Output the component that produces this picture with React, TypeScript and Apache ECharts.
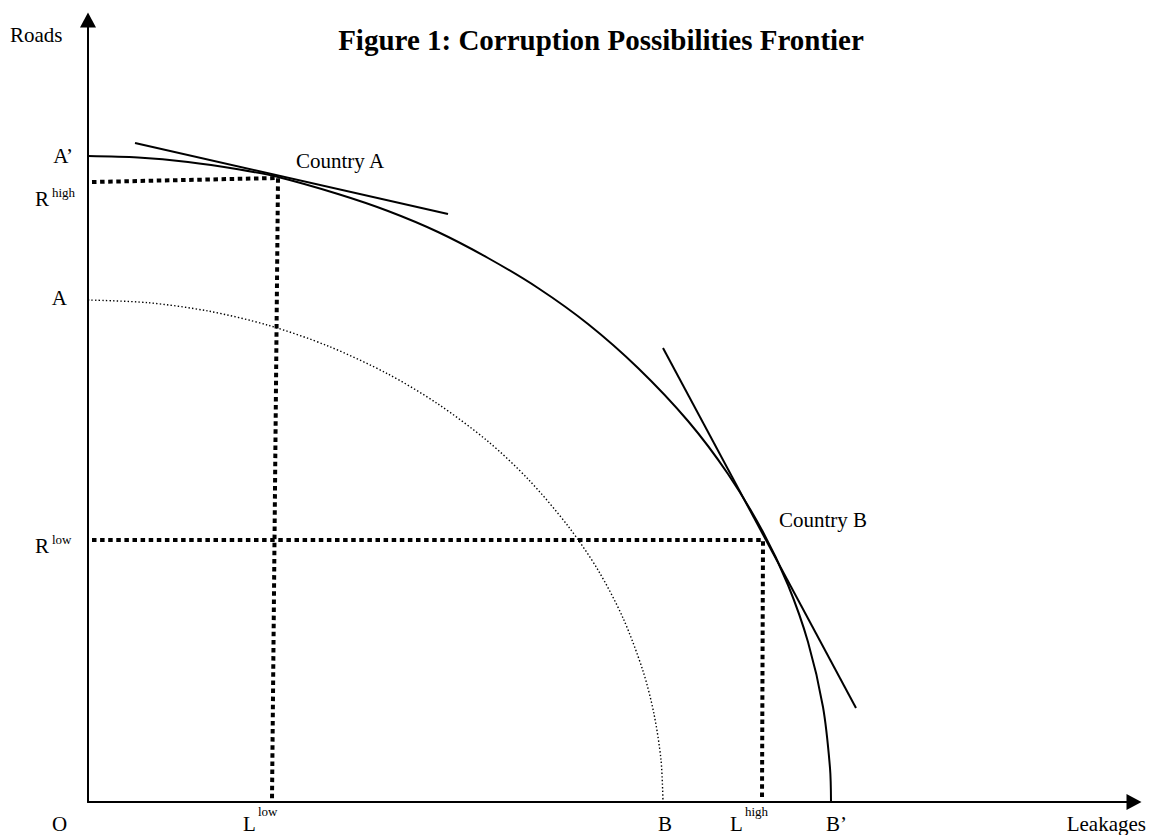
import React, { useEffect, useRef } from "react";
import * as echarts from "echarts";

// Diagram units: x = leakages, y = roads (origin O at bottom-left of the axes)
const X_MAX = 1046;
const Y_MAX = 782;

// Outer frontier A' -> B'
const outerFrontier: [number, number][] = [
  [0, 646], [50, 644.5], [100, 640], [150, 632.7], [190, 625], [250, 608],
  [300, 591], [350, 570], [400, 544], [450, 514], [500, 478], [550, 434],
  [600, 381], [640, 328], [675, 270], [700, 217], [720, 160], [735, 95],
  [742, 34], [743, 0],
];

// Inner (dotted) frontier A -> B
const innerFrontier: [number, number][] = [
  [0, 502], [60, 499.3], [120, 491], [180, 476.8], [240, 456], [300, 428],
  [350, 398], [400, 360.6], [440, 323], [480, 276], [510, 232], [535, 184],
  [555, 131], [566, 88], [573, 42], [575, 0],
];

// Tangent lines at Country A and Country B
const tangentA: [number, number][] = [[47, 659], [360, 588]];
const tangentB: [number, number][] = [[575, 454], [768, 94]];

// Dotted guides R-high / L-low and R-low / L-high
const guideA: [number, number][] = [[4, 620], [190, 624], [184, 2]];
const guideB: [number, number][] = [[4, 262], [675, 262], [674, 2]];

// Texts
const titleText = "Figure 1: Corruption Possibilities Frontier";
const yAxisName = "Roads";
const xAxisName = "Leakages";
const yMarks = [
  { base: "A’", sup: "" },
  { base: "R", sup: "high" },
  { base: "A", sup: "" },
  { base: "R", sup: "low" },
];
const xMarks = [
  { base: "O", sup: "" },
  { base: "L", sup: "low" },
  { base: "B", sup: "" },
  { base: "L", sup: "high" },
  { base: "B’", sup: "" },
];
const pointNames = ["Country A", "Country B"];

const FONT = '"Liberation Serif", "Times New Roman", serif';

function txt(
  x: number,
  y: number,
  text: string,
  size: number,
  align: string = "left",
  weight: string = "normal"
) {
  return {
    type: "text",
    x,
    y,
    silent: true,
    style: {
      text,
      fontSize: size,
      fontFamily: FONT,
      fontWeight: weight,
      fill: "#000",
      align,
      verticalAlign: "middle",
      lineHeight: Math.round(size * 0.75),
    },
  };
}

export default function App() {
  const ref = useRef<HTMLDivElement>(null);

  useEffect(() => {
    if (!ref.current) return;
    const chart = echarts.init(ref.current, undefined, { renderer: "svg" });

    const solid = { color: "#000", width: 2 };
    const thickDots = { color: "#000", width: 4, type: [4.5, 3.6], cap: "butt" };
    const fineDots = { color: "#000", width: 1.4, type: [1.4, 2.2], cap: "butt" };

    const base = {
      type: "line",
      showSymbol: false,
      symbol: "none",
      silent: true,
      clip: false,
    };

    // label layout (pixel positions)
    const yPos = [
      { x: 73, y: 156, align: "right" },
      { x: 35, y: 199, align: "left", sx: 52, sy: 192 },
      { x: 67, y: 298, align: "right" },
      { x: 35, y: 546, align: "left", sx: 52, sy: 539 },
    ];
    const xPos = [
      { x: 59.5, align: "center" },
      { x: 243, align: "left", sx: 258 },
      { x: 665, align: "center" },
      { x: 730, align: "left", sx: 745 },
      { x: 826, align: "left" },
    ];
    const xLabelY = 823.5;
    const xSupY = 811.5;

    const graphics: any[] = [];
    graphics.push(txt(601, 40, titleText, 29, "center", "bold"));
    graphics.push(txt(10, 35, yAxisName, 21));
    graphics.push(txt(1146, xLabelY, xAxisName, 21, "right"));
    yMarks.forEach((m, i) => {
      const p: any = yPos[i];
      graphics.push(txt(p.x, p.y, m.base, 21, p.align));
      if (m.sup) graphics.push(txt(p.sx, p.sy, m.sup, 13));
    });
    xMarks.forEach((m, i) => {
      const p: any = xPos[i];
      graphics.push(txt(p.x, xLabelY, m.base, 21, p.align));
      if (m.sup) graphics.push(txt(p.sx, xSupY, m.sup, 13));
    });
    graphics.push(txt(296, 161, pointNames[0], 21));
    graphics.push(txt(779, 520, pointNames[1], 21));

    const axisCommon = {
      type: "value",
      min: 0,
      axisTick: { show: false },
      axisLabel: { show: false },
      splitLine: { show: false },
    };
    const axisLine = {
      show: true,
      onZero: false,
      symbol: ["none", "triangle"],
      symbolSize: [16, 15],
      lineStyle: { color: "#000", width: 2 },
    };

    chart.setOption({
      animation: false,
      backgroundColor: "#fff",
      grid: { left: 88, right: 15, top: 20, bottom: 33, containLabel: false },
      xAxis: { ...axisCommon, max: X_MAX, axisLine },
      yAxis: { ...axisCommon, max: Y_MAX, axisLine },
      series: [
        { ...base, name: "Inner frontier", data: innerFrontier, smooth: 0.3, lineStyle: fineDots },
        { ...base, name: "Outer frontier", data: outerFrontier, smooth: 0.3, lineStyle: solid },
        { ...base, name: "Tangent A", data: tangentA, lineStyle: solid },
        { ...base, name: "Tangent B", data: tangentB, lineStyle: solid },
        { ...base, name: "Guide A", data: guideA, lineStyle: thickDots },
        { ...base, name: "Guide B", data: guideB, lineStyle: thickDots },
      ],
      graphic: graphics,
    });

    return () => chart.dispose();
  }, []);

  return (
    <div
      ref={ref}
      style={{ position: "absolute", left: 0, top: 0, width: 1149, height: 835, background: "#fff" }}
    />
  );
}
